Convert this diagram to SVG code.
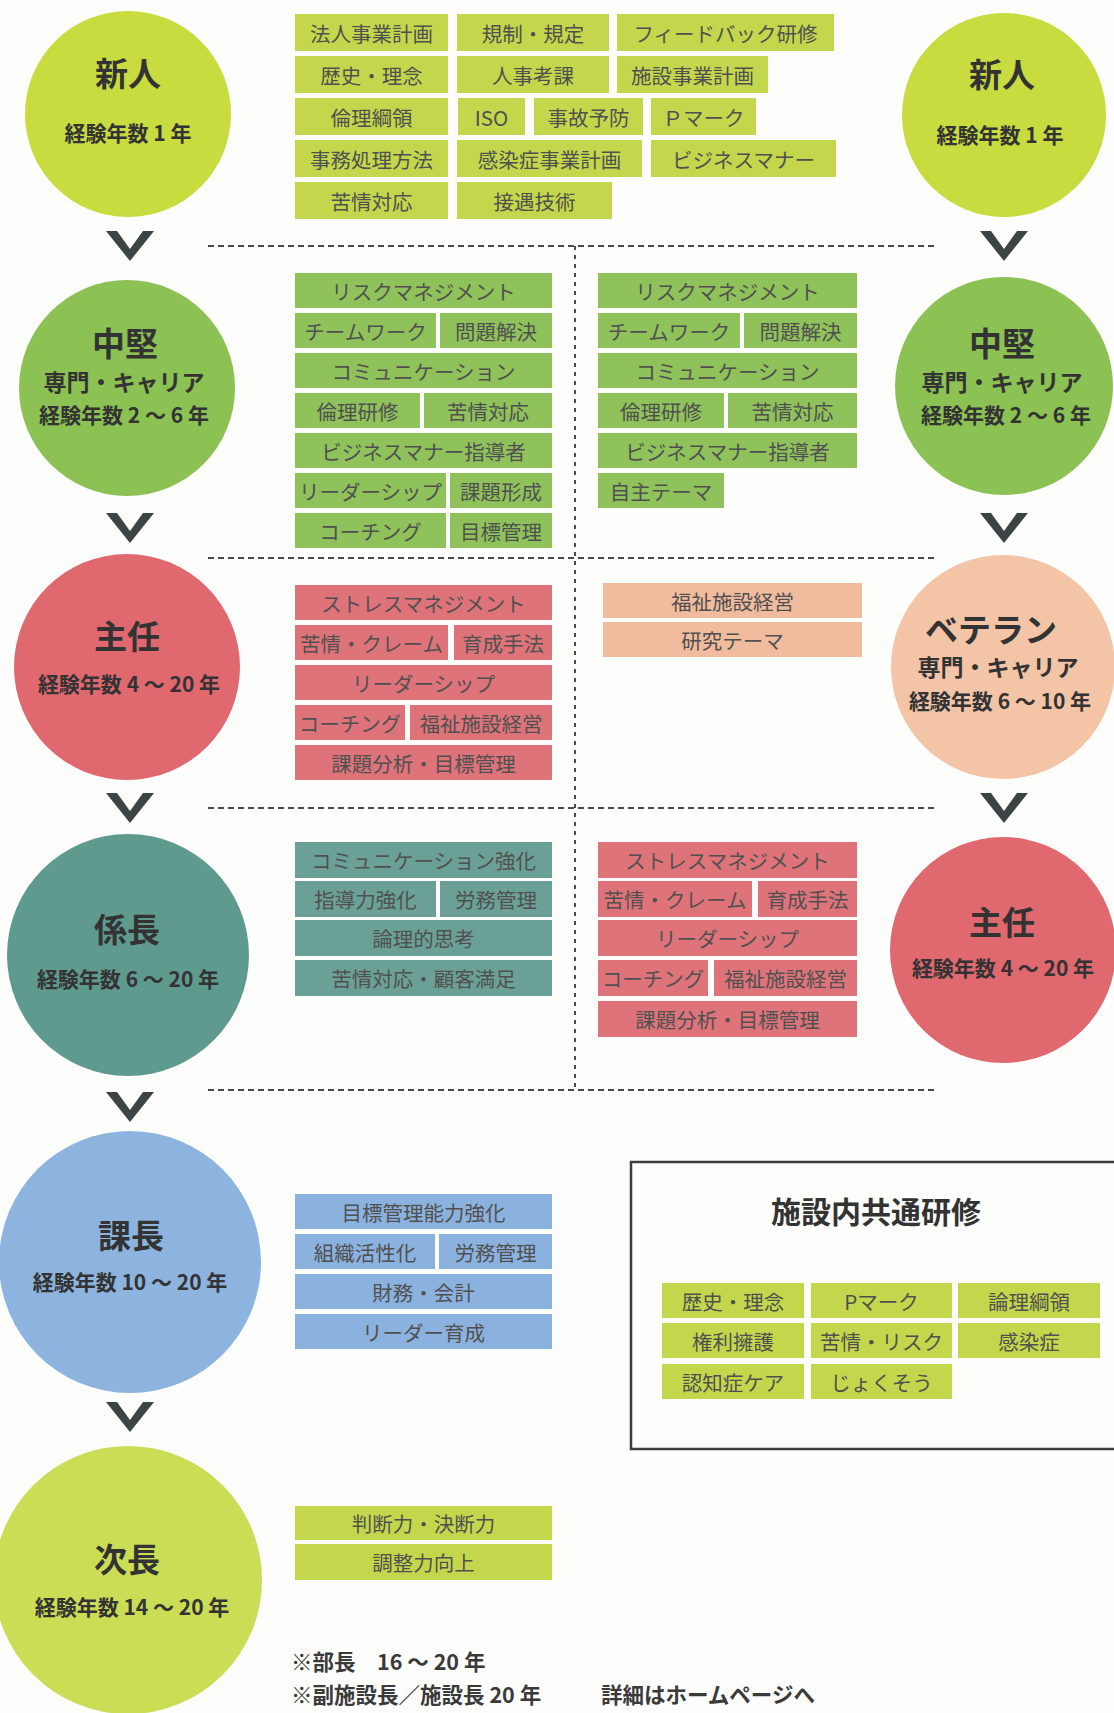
<svg xmlns="http://www.w3.org/2000/svg" width="1114" height="1713" viewBox="0 0 1114 1713">
<style>
text{font-family:"Noto Sans CJK JP","Noto Sans CJK SC",sans-serif;text-anchor:middle;dominant-baseline:central}
.t{font-size:20.5px;fill:#505050;font-weight:400}
.h{font-size:33px;font-weight:700;fill:#333}
.s{font-size:21px;font-weight:700;fill:#333}
.s2{font-size:23px;font-weight:700;fill:#333}
.c-yg{fill:#c8db3f}.b-yg{fill:#c4d74c}
.c-yg2{fill:#cadd55}
.c-gr{fill:#8cc153}.b-gr{fill:#8fc25a}
.c-rd{fill:#e0686f}.b-rd{fill:#de747a}
.c-pc{fill:#f3c4a6}.b-pc{fill:#f1bc9d}
.c-tl{fill:#5f9a8f}.b-tl{fill:#6ba096}
.c-bl{fill:#8db4df}.b-bl{fill:#8bb2de}
.dash{stroke:#4a4a4a;stroke-width:2;stroke-dasharray:6 4;fill:none}
.dashv{stroke:#4a4a4a;stroke-width:2;stroke-dasharray:4 5;fill:none}
.chev{fill:#3c4446}
.note{font-size:21.5px;font-weight:700;fill:#3a3a3a;text-anchor:start}
</style>
<defs>
<polygon id="chev" class="chev" points="-24,-15 -13,-15 0,3 13,-15 24,-15 0,15"/>
</defs>
<rect width="1114" height="1713" fill="#fdfdfc"/>

<g id="connectors">
<line class="dash" x1="208" y1="246" x2="935" y2="246"/>
<line class="dash" x1="208" y1="558" x2="935" y2="558"/>
<line class="dash" x1="208" y1="808" x2="935" y2="808"/>
<line class="dash" x1="208" y1="1090" x2="935" y2="1090"/>
<line class="dashv" x1="575" y1="246" x2="575" y2="1090"/>
<use href="#chev" x="130" y="246"/>
<use href="#chev" x="130" y="528"/>
<use href="#chev" x="130" y="808"/>
<use href="#chev" x="130" y="1107"/>
<use href="#chev" x="130" y="1417"/>
<use href="#chev" x="1004" y="246"/>
<use href="#chev" x="1004" y="528"/>
<use href="#chev" x="1004" y="808"/>
</g>

<g id="node-shinjin-left">
<circle class="c-yg" cx="128" cy="114" r="103"/>
<text class="h" x="128" y="72">新人</text>
<text class="s" x="128" y="132">経験年数 1 年</text>
</g>
<g id="node-shinjin-right">
<circle class="c-yg" cx="1004" cy="115" r="102"/>
<text class="h" x="1002" y="73">新人</text>
<text class="s" x="1000" y="134">経験年数 1 年</text>
</g>
<g id="node-chuken-left">
<circle class="c-gr" cx="127" cy="388" r="108"/>
<text class="h" x="125" y="342">中堅</text>
<text class="s2" x="124" y="381">専門・キャリア</text>
<text class="s" x="124" y="414">経験年数 2 ～ 6 年</text>
</g>
<g id="node-chuken-right">
<circle class="c-gr" cx="1004" cy="386" r="109"/>
<text class="h" x="1002" y="342">中堅</text>
<text class="s2" x="1002" y="381">専門・キャリア</text>
<text class="s" x="1006" y="414">経験年数 2 ～ 6 年</text>
</g>
<g id="node-shunin-left">
<circle class="c-rd" cx="127" cy="667" r="113"/>
<text class="h" x="127" y="635">主任</text>
<text class="s" x="129" y="683">経験年数 4 ～ 20 年</text>
</g>
<g id="node-veteran">
<circle class="c-pc" cx="1003" cy="667" r="112"/>
<text class="h" x="991" y="628" font-size="35">ベテラン</text>
<text class="s2" x="998" y="666">専門・キャリア</text>
<text class="s" x="1000" y="700">経験年数 6 ～ 10 年</text>
</g>
<g id="node-kakaricho">
<circle class="c-tl" cx="128" cy="955" r="121"/>
<text class="h" x="127" y="928">係長</text>
<text class="s" x="128" y="978">経験年数 6 ～ 20 年</text>
</g>
<g id="node-shunin-right">
<circle class="c-rd" cx="1003" cy="950" r="113"/>
<text class="h" x="1002" y="921">主任</text>
<text class="s" x="1003" y="967">経験年数 4 ～ 20 年</text>
</g>
<g id="node-kacho">
<circle class="c-bl" cx="130" cy="1262" r="131"/>
<text class="h" x="131" y="1234">課長</text>
<text class="s" x="130" y="1281">経験年数 10 ～ 20 年</text>
</g>
<g id="node-jicho">
<circle class="c-yg2" cx="128" cy="1580" r="134"/>
<text class="h" x="127" y="1558">次長</text>
<text class="s" x="132" y="1606">経験年数 14 ～ 20 年</text>
</g>

<g id="courses-shinjin">
<rect class="b-yg" x="295" y="14" width="153" height="37"/><text class="t" x="371.5" y="32.5">法人事業計画</text>
<rect class="b-yg" x="457" y="14" width="152" height="37"/><text class="t" x="533" y="32.5">規制・規定</text>
<rect class="b-yg" x="617" y="14" width="217" height="37"/><text class="t" x="725.5" y="32.5">フィードバック研修</text>
<rect class="b-yg" x="295" y="56" width="153" height="37"/><text class="t" x="371.5" y="74.5">歴史・理念</text>
<rect class="b-yg" x="457" y="56" width="152" height="37"/><text class="t" x="533" y="74.5">人事考課</text>
<rect class="b-yg" x="617" y="56" width="151" height="37"/><text class="t" x="692.5" y="74.5">施設事業計画</text>
<rect class="b-yg" x="295" y="98" width="153" height="37"/><text class="t" x="371.5" y="116.5">倫理綱領</text>
<rect class="b-yg" x="458" y="98" width="67" height="37"/><text class="t" x="491.5" y="116.5">ISO</text>
<rect class="b-yg" x="534" y="98" width="109" height="37"/><text class="t" x="588.5" y="116.5">事故予防</text>
<rect class="b-yg" x="651" y="98" width="105" height="37"/><text class="t" x="703.5" y="116.5">Ｐマーク</text>
<rect class="b-yg" x="295" y="140" width="153" height="37"/><text class="t" x="371.5" y="158.5">事務処理方法</text>
<rect class="b-yg" x="457" y="140" width="185" height="37"/><text class="t" x="549.5" y="158.5">感染症事業計画</text>
<rect class="b-yg" x="651" y="140" width="185" height="37"/><text class="t" x="743.5" y="158.5">ビジネスマナー</text>
<rect class="b-yg" x="295" y="182" width="153" height="37"/><text class="t" x="371.5" y="200.5">苦情対応</text>
<rect class="b-yg" x="457" y="182" width="155" height="37"/><text class="t" x="534.5" y="200.5">接遇技術</text>
</g>

<g id="courses-chuken-left">
<rect class="b-gr" x="295" y="273" width="257" height="35"/><text class="t" x="423.5" y="290.5">リスクマネジメント</text>
<rect class="b-gr" x="295" y="313" width="141" height="35"/><text class="t" x="365.5" y="330.5">チームワーク</text>
<rect class="b-gr" x="440" y="313" width="112" height="35"/><text class="t" x="496" y="330.5">問題解決</text>
<rect class="b-gr" x="295" y="353" width="257" height="35"/><text class="t" x="423.5" y="370.5">コミュニケーション</text>
<rect class="b-gr" x="295" y="393" width="125" height="35"/><text class="t" x="357.5" y="410.5">倫理研修</text>
<rect class="b-gr" x="424" y="393" width="128" height="35"/><text class="t" x="488" y="410.5">苦情対応</text>
<rect class="b-gr" x="295" y="433" width="257" height="35"/><text class="t" x="423.5" y="450.5">ビジネスマナー指導者</text>
<rect class="b-gr" x="295" y="473" width="151" height="35"/><text class="t" x="370.5" y="490.5">リーダーシップ</text>
<rect class="b-gr" x="450" y="473" width="102" height="35"/><text class="t" x="501" y="490.5">課題形成</text>
<rect class="b-gr" x="295" y="513" width="151" height="35"/><text class="t" x="370.5" y="530.5">コーチング</text>
<rect class="b-gr" x="450" y="513" width="102" height="35"/><text class="t" x="501" y="530.5">目標管理</text>
</g>

<g id="courses-chuken-right">
<rect class="b-gr" x="598" y="273" width="259" height="35"/><text class="t" x="727.5" y="290.5">リスクマネジメント</text>
<rect class="b-gr" x="598" y="313" width="142" height="35"/><text class="t" x="669" y="330.5">チームワーク</text>
<rect class="b-gr" x="744" y="313" width="113" height="35"/><text class="t" x="800.5" y="330.5">問題解決</text>
<rect class="b-gr" x="598" y="353" width="259" height="35"/><text class="t" x="727.5" y="370.5">コミュニケーション</text>
<rect class="b-gr" x="598" y="393" width="126" height="35"/><text class="t" x="661" y="410.5">倫理研修</text>
<rect class="b-gr" x="728" y="393" width="129" height="35"/><text class="t" x="792.5" y="410.5">苦情対応</text>
<rect class="b-gr" x="598" y="433" width="259" height="35"/><text class="t" x="727.5" y="450.5">ビジネスマナー指導者</text>
<rect class="b-gr" x="598" y="473" width="126" height="35"/><text class="t" x="661" y="490.5">自主テーマ</text>
</g>

<g id="courses-shunin-left">
<rect class="b-rd" x="295" y="585" width="257" height="35"/><text class="t" x="423.5" y="602.5">ストレスマネジメント</text>
<rect class="b-rd" x="295" y="625" width="153" height="35"/><text class="t" x="371.5" y="642.5">苦情・クレーム</text>
<rect class="b-rd" x="454" y="625" width="98" height="35"/><text class="t" x="503" y="642.5">育成手法</text>
<rect class="b-rd" x="295" y="665" width="257" height="35"/><text class="t" x="423.5" y="682.5">リーダーシップ</text>
<rect class="b-rd" x="295" y="705" width="110" height="35"/><text class="t" x="350" y="722.5">コーチング</text>
<rect class="b-rd" x="410" y="705" width="142" height="35"/><text class="t" x="481" y="722.5">福祉施設経営</text>
<rect class="b-rd" x="295" y="745" width="257" height="35"/><text class="t" x="423.5" y="762.5">課題分析・目標管理</text>
</g>

<g id="courses-veteran">
<rect class="b-pc" x="603" y="583" width="259" height="35"/><text class="t" x="732.5" y="600.5">福祉施設経営</text>
<rect class="b-pc" x="603" y="622" width="259" height="35"/><text class="t" x="732.5" y="639.5">研究テーマ</text>
</g>

<g id="courses-kakaricho">
<rect class="b-tl" x="295" y="842" width="257" height="36"/><text class="t" x="423.5" y="860">コミュニケーション強化</text>
<rect class="b-tl" x="295" y="881" width="141" height="36"/><text class="t" x="365.5" y="899">指導力強化</text>
<rect class="b-tl" x="440" y="881" width="112" height="36"/><text class="t" x="496" y="899">労務管理</text>
<rect class="b-tl" x="295" y="920" width="257" height="36"/><text class="t" x="423.5" y="938">論理的思考</text>
<rect class="b-tl" x="295" y="960" width="257" height="36"/><text class="t" x="423.5" y="978">苦情対応・顧客満足</text>
</g>

<g id="courses-shunin-right">
<rect class="b-rd" x="598" y="842" width="259" height="36"/><text class="t" x="727.5" y="860">ストレスマネジメント</text>
<rect class="b-rd" x="598" y="881" width="154" height="36"/><text class="t" x="675" y="899">苦情・クレーム</text>
<rect class="b-rd" x="758" y="881" width="99" height="36"/><text class="t" x="807.5" y="899">育成手法</text>
<rect class="b-rd" x="598" y="920" width="259" height="36"/><text class="t" x="727.5" y="938">リーダーシップ</text>
<rect class="b-rd" x="598" y="960" width="110" height="36"/><text class="t" x="653" y="978">コーチング</text>
<rect class="b-rd" x="714" y="960" width="143" height="36"/><text class="t" x="785.5" y="978">福祉施設経営</text>
<rect class="b-rd" x="598" y="1001" width="259" height="36"/><text class="t" x="727.5" y="1019">課題分析・目標管理</text>
</g>

<g id="courses-kacho">
<rect class="b-bl" x="295" y="1194" width="257" height="35"/><text class="t" x="423.5" y="1211.5">目標管理能力強化</text>
<rect class="b-bl" x="295" y="1234" width="140" height="35"/><text class="t" x="365" y="1251.5">組織活性化</text>
<rect class="b-bl" x="439" y="1234" width="113" height="35"/><text class="t" x="495.5" y="1251.5">労務管理</text>
<rect class="b-bl" x="295" y="1274" width="257" height="35"/><text class="t" x="423.5" y="1291.5">財務・会計</text>
<rect class="b-bl" x="295" y="1314" width="257" height="35"/><text class="t" x="423.5" y="1331.5">リーダー育成</text>
</g>

<g id="courses-jicho">
<rect class="b-yg" x="295" y="1506" width="257" height="34"/><text class="t" x="423.5" y="1523">判断力・決断力</text>
<rect class="b-yg" x="295" y="1544" width="257" height="36"/><text class="t" x="423.5" y="1562">調整力向上</text>
</g>

<g id="common-training">
<rect x="631" y="1162" width="495" height="287" fill="none" stroke="#3d3d3d" stroke-width="2.5"/>
<text x="876" y="1210" font-size="30" font-weight="700" fill="#333">施設内共通研修</text>
<rect class="b-yg" x="662" y="1283" width="142" height="35"/><text class="t" x="733" y="1300.5">歴史・理念</text>
<rect class="b-yg" x="811" y="1283" width="141" height="35"/><text class="t" x="881.5" y="1300.5">Pマーク</text>
<rect class="b-yg" x="958" y="1283" width="142" height="35"/><text class="t" x="1029" y="1300.5">論理綱領</text>
<rect class="b-yg" x="662" y="1323" width="142" height="35"/><text class="t" x="733" y="1340.5">権利擁護</text>
<rect class="b-yg" x="811" y="1323" width="141" height="35"/><text class="t" x="881.5" y="1340.5">苦情・リスク</text>
<rect class="b-yg" x="958" y="1323" width="142" height="35"/><text class="t" x="1029" y="1340.5">感染症</text>
<rect class="b-yg" x="662" y="1364" width="142" height="35"/><text class="t" x="733" y="1381.5">認知症ケア</text>
<rect class="b-yg" x="811" y="1364" width="141" height="35"/><text class="t" x="881.5" y="1381.5">じょくそう</text>
</g>

<g id="notes">
<text class="note" x="291" y="1660">※部長　16 ～ 20 年</text>
<text class="note" x="291" y="1693">※副施設長／施設長 20 年</text>
<text class="note" x="601" y="1693">詳細はホームページへ</text>
</g>
</svg>
